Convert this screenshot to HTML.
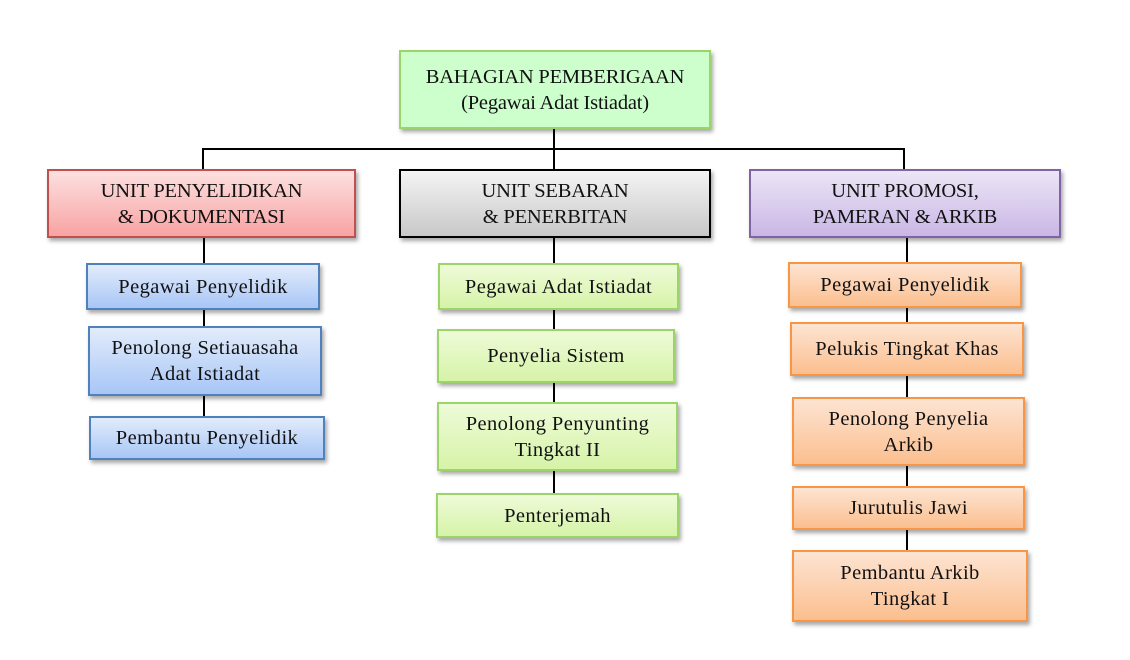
<!DOCTYPE html>
<html><head><meta charset="utf-8"><style>
body{margin:0;width:1130px;height:660px;background:#fff;position:relative;overflow:hidden;font-family:"Liberation Serif",serif;}
.b{position:absolute;box-sizing:border-box;display:flex;align-items:center;justify-content:center;text-align:center;font-size:20.5px;line-height:26px;color:#111;box-shadow:2px 3px 4px rgba(0,0,0,.35);border:2px solid;letter-spacing:0.4px}
.c{letter-spacing:-0.2px}
.l{position:absolute;background:#000}
.g{border-color:#9bd56a;background:linear-gradient(#eefbd8,#d6f3a8)}
.gt{border-color:#9bd56a;background:#ccffcc}
.r{border-color:#c0504d;background:linear-gradient(#fde0e0,#f8a3a3)}
.k{border-color:#000;background:linear-gradient(#f4f4f4,#c8c8c8)}
.p{border-color:#8064a2;background:linear-gradient(#ece5f6,#c9b7e6)}
.u{border-color:#4f81bd;background:linear-gradient(#e2ecfb,#a8c6f6)}
.o{border-color:#f79646;background:linear-gradient(#fde4d2,#fbbf8f)}
</style></head><body>
<div class="l" style="left:553px;top:129px;width:2px;height:40px"></div>
<div class="l" style="left:202px;top:148px;width:703px;height:2px"></div>
<div class="l" style="left:202px;top:148px;width:2px;height:21px"></div>
<div class="l" style="left:903px;top:148px;width:2px;height:21px"></div>
<div class="l" style="left:203px;top:238px;width:2px;height:180px"></div>
<div class="l" style="left:553px;top:238px;width:2px;height:258px"></div>
<div class="l" style="left:906px;top:238px;width:2px;height:314px"></div>

<div class="b gt c" style="left:399px;top:50px;width:312px;height:79px">BAHAGIAN PEMBERIGAAN<br>(Pegawai Adat Istiadat)</div>
<div class="b r c" style="left:47px;top:169px;width:309px;height:69px">UNIT PENYELIDIKAN<br>&amp; DOKUMENTASI</div>
<div class="b k c" style="left:399px;top:169px;width:312px;height:69px">UNIT SEBARAN<br>&amp; PENERBITAN</div>
<div class="b p c" style="left:749px;top:169px;width:312px;height:69px">UNIT PROMOSI,<br>PAMERAN &amp; ARKIB</div>

<div class="b u" style="left:86px;top:263px;width:234px;height:47px">Pegawai Penyelidik</div>
<div class="b u" style="left:88px;top:326px;width:234px;height:70px">Penolong Setiauasaha<br>Adat Istiadat</div>
<div class="b u" style="left:89px;top:416px;width:236px;height:44px">Pembantu Penyelidik</div>

<div class="b g" style="left:438px;top:263px;width:241px;height:47px">Pegawai Adat Istiadat</div>
<div class="b g" style="left:437px;top:329px;width:238px;height:54px">Penyelia Sistem</div>
<div class="b g" style="left:437px;top:402px;width:241px;height:69px">Penolong Penyunting<br>Tingkat II</div>
<div class="b g" style="left:436px;top:493px;width:243px;height:45px">Penterjemah</div>

<div class="b o" style="left:788px;top:262px;width:234px;height:46px">Pegawai Penyelidik</div>
<div class="b o" style="left:790px;top:322px;width:234px;height:54px">Pelukis Tingkat Khas</div>
<div class="b o" style="left:792px;top:397px;width:233px;height:69px">Penolong Penyelia<br>Arkib</div>
<div class="b o" style="left:792px;top:486px;width:233px;height:44px">Jurutulis Jawi</div>
<div class="b o" style="left:792px;top:550px;width:236px;height:72px">Pembantu Arkib<br>Tingkat I</div>
</body></html>
